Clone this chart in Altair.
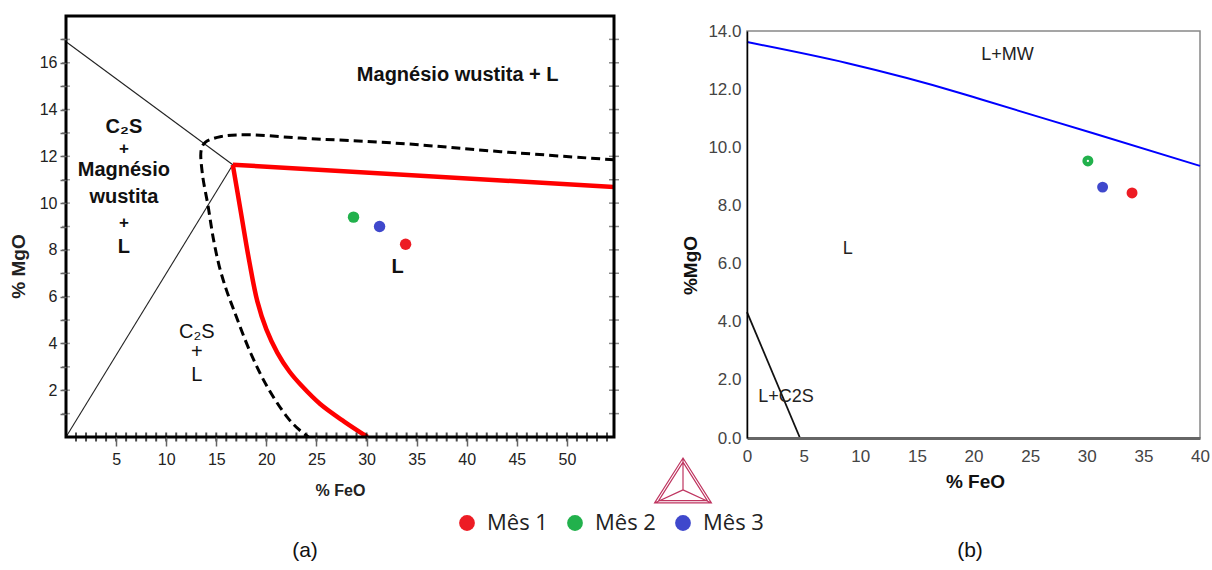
import altair as alt
import pandas as pd

# ---------------- Panel (a) data ----------------
a_line1_x = [0.0, 16.65]
a_line1_y = [16.9, 11.64]
a_line2_x = [0.0, 16.65]
a_line2_y = [0.0, 11.64]
a_red_top_x = [16.65, 54.7]
a_red_top_y = [11.64, 10.69]
a_red_curve_x = [16.65, 17.5, 18.3, 19.1, 20.0, 21.1, 22.3, 23.5, 25.4, 27.8, 30.1]
a_red_curve_y = [11.64, 9.5, 7.5, 5.8, 4.6, 3.6, 2.8, 2.2, 1.4, 0.65, 0.0]
a_dash_x = [54.7, 43.4, 33.4, 23.4, 18.1, 15.5, 13.9, 13.5, 13.6, 14.2, 14.7, 15.3,
            16.0, 16.75, 18.44, 20.1, 22.1, 23.3, 24.2]
a_dash_y = [11.85, 12.2, 12.55, 12.78, 12.92, 12.85, 12.6, 12.28, 11.3, 9.83, 8.5, 7.3,
            6.3, 5.43, 3.58, 2.14, 0.84, 0.3, 0.0]
a_pts_label = ["Mês 1", "Mês 2", "Mês 3"]
a_pts_x = [33.9, 28.7, 31.3]
a_pts_y = [8.24, 9.4, 9.0]
a_bold_text = ["Magnésio wustita + L", "C₂S", "Magnésio", "wustita", "L", "L"]
a_bold_x = [39.1, 5.78, 5.78, 5.78, 5.78, 33.1]
a_bold_y = [15.49, 13.26, 11.42, 10.27, 8.12, 7.27]
a_plus_text = ["+", "+"]
a_plus_x = [5.78, 5.78]
a_plus_y = [12.32, 9.16]
a_reg_text = ["C₂S", "+", "L"]
a_reg_x = [13.06, 13.06, 13.06]
a_reg_y = [4.47, 3.63, 2.64]
a_x_labels = [5, 10, 15, 20, 25, 30, 35, 40, 45, 50]
a_x_minor = list(range(1, 55))
a_y_ticks = list(range(1, 18))
a_xmax = 54.7
a_ymax = 18.0

# ---------------- Panel (b) data ----------------
b_blue_x = [0.0, 8.8, 18.8, 20.56, 30.5, 40.0]
b_blue_y = [13.62, 12.9, 11.87, 11.66, 10.49, 9.36]
b_black_x = [0.0, 4.68]
b_black_y = [4.33, 0.0]
b_pts_label = ["Mês 1", "Mês 2", "Mês 3"]
b_pts_x = [34.0, 30.1, 31.4]
b_pts_y = [8.43, 9.53, 8.63]
b_text = ["L+MW", "L", "L+C2S"]
b_text_x = [23.0, 8.9, 3.44]
b_text_y = [13.17, 6.5, 1.41]
b_x_ticks = [0, 5, 10, 15, 20, 25, 30, 35, 40]
b_y_ticks = [0, 2, 4, 6, 8, 10, 12, 14]
b_xmax = 40.0
b_ymax = 14.0

legend_domain = ["Mês 1", "Mês 2", "Mês 3"]
legend_colors = ["#ed1c24", "#22b14c", "#3f48cc"]
captions = ["(a)", "(b)"]

FONT = "Liberation Sans"

# ---------------- scales ----------------
A_XS = alt.Scale(domain=[0, a_xmax], range=[66, 614], nice=False, zero=False)
A_YS = alt.Scale(domain=[0, a_ymax], range=[437, 16], nice=False, zero=False)
B_XS = alt.Scale(domain=[0, b_xmax], range=[747, 1200], nice=False, zero=False)
B_YS = alt.Scale(domain=[0, b_ymax], range=[438, 31], nice=False, zero=False)


def ax(field="x", axis=None):
    return alt.X(f"{field}:Q", scale=A_XS, axis=axis)


def ay(field="y", axis=None):
    return alt.Y(f"{field}:Q", scale=A_YS, axis=axis)


def bx(field="x", axis=None):
    return alt.X(f"{field}:Q", scale=B_XS, axis=axis)


def by(field="y", axis=None):
    return alt.Y(f"{field}:Q", scale=B_YS, axis=axis)


def df(xs, ys, **extra):
    d = pd.DataFrame({"x": xs, "y": ys})
    d["i"] = range(len(d))
    for k, v in extra.items():
        d[k] = v
    return d


color_enc = alt.Color(
    "mes:N",
    scale=alt.Scale(domain=legend_domain, range=legend_colors),
    legend=alt.Legend(
        orient="none", legendX=456, legendY=512, direction="horizontal", title=None,
        symbolType="circle", symbolSize=250, symbolStrokeWidth=0, labelFontSize=22,
        labelFont="Open Sans", labelColor="#222", columnPadding=16, labelOffset=9,
    ),
)

# ---------------- Panel (a) layers ----------------
a_frame_df = pd.DataFrame({"x": [0.0], "x2": [a_xmax], "y": [0.0], "y2": [a_ymax]})
a_axis_x = alt.Axis(
    orient="bottom", offset=-133, values=a_x_labels, tickSize=9, tickColor="#666",
    tickWidth=1.5, domain=False, grid=False, labelFontSize=16, labelFont=FONT,
    labelColor="#222", labelPadding=5, labelFlush=False, labelOverlap=False, zindex=1,
    title="% FeO", titleFont=FONT, titleFontSize=16, titleFontWeight="bold",
    titleColor="#222", titleX=340, titleY=53, titleBaseline="middle", titleAlign="center",
)
a_axis_y = alt.Axis(
    orient="left", offset=-66, values=a_y_ticks,
    labelExpr="datum.value % 2 == 0 ? datum.label : ''",
    tickSize=6, tickColor="#666", tickWidth=1.5, domain=False, grid=False,
    labelFontSize=16, labelFont=FONT, labelColor="#222", labelPadding=3,
    labelFlush=False, labelOverlap=False, zindex=1,
    title="% MgO", titleFont=FONT, titleFontSize=19, titleFontWeight="bold",
    titleColor="#222", titleX=-48, titleY=266, titleAngle=270,
    titleBaseline="middle", titleAlign="center",
)

a_frame = alt.Chart(a_frame_df).mark_rect(
    fillOpacity=0, stroke="black", strokeWidth=3
).encode(x=ax("x", a_axis_x), x2="x2", y=ay("y", a_axis_y), y2="y2")

a_l1 = alt.Chart(df(a_line1_x, a_line1_y)).mark_line(color="#222", strokeWidth=1.1).encode(
    x=ax(), y=ay(), order="i:Q")
a_l2 = alt.Chart(df(a_line2_x, a_line2_y)).mark_line(color="#222", strokeWidth=1.1).encode(
    x=ax(), y=ay(), order="i:Q")
a_red1 = alt.Chart(df(a_red_top_x, a_red_top_y)).mark_line(color="#ff0000", strokeWidth=4.5).encode(
    x=ax(), y=ay(), order="i:Q")
a_red2 = alt.Chart(df(a_red_curve_x, a_red_curve_y)).mark_line(
    color="#ff0000", strokeWidth=4.5, interpolate="catmull-rom").encode(x=ax(), y=ay(), order="i:Q")
a_dash = alt.Chart(df(a_dash_x, a_dash_y)).mark_line(
    color="black", strokeWidth=3, strokeDash=[9, 5], interpolate="catmull-rom"
).encode(x=ax(), y=ay(), order="i:Q")

a_bot_ticks = alt.Chart(df(a_x_minor, [0.0] * len(a_x_minor))).mark_tick(
    orient="vertical", size=9, thickness=2, color="black").encode(x=ax(), y=ay())
a_right_ticks = alt.Chart(df([a_xmax] * len(a_y_ticks), a_y_ticks)).mark_tick(
    orient="horizontal", size=10, thickness=1.5, color="#555").encode(x=ax(), y=ay())
a_left_ticks = alt.Chart(df([0.0] * len(a_y_ticks), a_y_ticks)).mark_tick(
    orient="horizontal", size=8, thickness=1.5, color="#777").encode(x=ax(), y=ay())

a_pts = alt.Chart(df(a_pts_x, a_pts_y, mes=a_pts_label)).mark_point(
    filled=True, size=130, opacity=1, shape="circle").encode(x=ax(), y=ay(), color=color_enc)

a_txt_bold = alt.Chart(df(a_bold_x, a_bold_y, t=a_bold_text)).mark_text(
    font=FONT, fontSize=20, fontWeight="bold", color="#111", baseline="middle", align="center"
).encode(x=ax(), y=ay(), text="t:N")
a_txt_plus = alt.Chart(df(a_plus_x, a_plus_y, t=a_plus_text)).mark_text(
    font=FONT, fontSize=17, fontWeight="bold", color="#111", baseline="middle", align="center"
).encode(x=ax(), y=ay(), text="t:N")
a_txt_reg = alt.Chart(df(a_reg_x, a_reg_y, t=a_reg_text)).mark_text(
    font=FONT, fontSize=20, color="#111", baseline="middle", align="center"
).encode(x=ax(), y=ay(), text="t:N")

# ---------------- Panel (b) layers ----------------
b_frame_df = pd.DataFrame({"x": [0.0], "x2": [b_xmax], "y": [0.0], "y2": [b_ymax]})
b_axis_x = alt.Axis(
    orient="bottom", offset=-132, values=b_x_ticks, ticks=False, domain=True,
    domainColor="#666", domainWidth=3, grid=False, labelFontSize=17, labelFont=FONT,
    labelColor="#444", labelPadding=10, labelFlush=False, labelOverlap=False, zindex=1,
    title="% FeO", titleFont=FONT, titleFontSize=19, titleFontWeight="bold",
    titleColor="#111", titleX=975, titleY=43, titleBaseline="middle", titleAlign="center",
)
b_axis_y = alt.Axis(
    orient="left", offset=-747, values=b_y_ticks, format=".1f", ticks=False, domain=True,
    domainColor="black", domainWidth=1.5, grid=False, labelFontSize=17, labelFont=FONT,
    labelColor="#444", labelPadding=6, labelFlush=False, labelOverlap=False, zindex=1,
    title="%MgO", titleFont=FONT, titleFontSize=19, titleFontWeight="bold",
    titleColor="#111", titleX=-57, titleY=265, titleAngle=270,
    titleBaseline="middle", titleAlign="center",
)
b_frame = alt.Chart(b_frame_df).mark_rect(
    fillOpacity=0, stroke="#888", strokeWidth=1.5
).encode(x=bx("x", b_axis_x), x2="x2", y=by("y", b_axis_y), y2="y2")

b_blue = alt.Chart(df(b_blue_x, b_blue_y)).mark_line(
    color="#0000ff", strokeWidth=2, interpolate="monotone").encode(x=bx(), y=by(), order="i:Q")
b_black = alt.Chart(df(b_black_x, b_black_y)).mark_line(
    color="#111", strokeWidth=1.8).encode(x=bx(), y=by(), order="i:Q")
b_pts = alt.Chart(df(b_pts_x, b_pts_y, mes=b_pts_label)).mark_point(
    filled=True, size=120, opacity=1, shape="circle").encode(x=bx(), y=by(), color=color_enc)
b_green_dot = alt.Chart(df(b_pts_x[1:2], b_pts_y[1:2])).mark_point(
    filled=True, size=5, opacity=1, color="white", shape="circle").encode(x=bx(), y=by())
b_txt = alt.Chart(df(b_text_x, b_text_y, t=b_text)).mark_text(
    font=FONT, fontSize=18, color="#222", baseline="middle", align="center"
).encode(x=bx(), y=by(), text="t:N")

# ---------------- decorations ----------------
logo_path = ("M0,-1L0.98,0.55L-0.98,0.55Z M0,-0.86L0.84,0.47L-0.84,0.47Z "
             "M0,-1L0,0.1 M0.98,0.55L0,0.1 M-0.98,0.55L0,0.1")
logo = alt.Chart(alt.Data(values=[{}])).mark_point(
    shape=logo_path, filled=False, stroke="#bf3560", strokeWidth=1.2, size=3364, opacity=1
).encode(x=alt.value(683), y=alt.value(487))

cap_a = alt.Chart(alt.Data(values=[{"t": captions[0]}])).mark_text(
    font=FONT, fontSize=21, color="#111", baseline="middle", align="center"
).encode(x=alt.value(305), y=alt.value(551), text="t:N")
cap_b = alt.Chart(alt.Data(values=[{"t": captions[1]}])).mark_text(
    font=FONT, fontSize=21, color="#111", baseline="middle", align="center"
).encode(x=alt.value(970), y=alt.value(551), text="t:N")

chart = alt.layer(
    a_l1, a_l2, a_dash, a_red1, a_red2, a_bot_ticks, a_right_ticks, a_left_ticks,
    a_frame, a_pts, a_txt_bold, a_txt_plus, a_txt_reg,
    b_frame, b_blue, b_black, b_pts, b_green_dot, b_txt,
    logo, cap_a, cap_b,
).resolve_scale(
    x="independent", y="independent"
).properties(
    width=1212, height=570, autosize=alt.AutoSizeParams(type="none"), padding=0,
    background="white",
).configure_view(strokeWidth=0)

chart.save("out.html", embed_options={"renderer": "svg", "actions": False})
